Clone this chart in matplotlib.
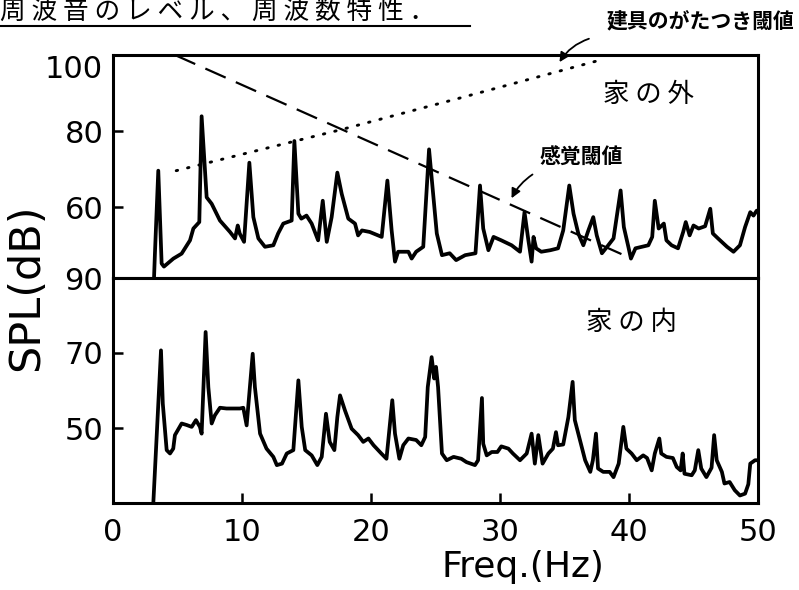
import matplotlib
matplotlib.use('Agg')
import matplotlib.pyplot as plt
from matplotlib.lines import Line2D

# 家の外 (上段) のスペクトル
freq_out = [3.18, 3.25, 3.51, 3.77, 3.95, 4.68, 5.32, 5.97, 6.23, 6.69, 6.87, 7.26, 7.65, 8.29, 9.07,
            9.46, 9.67, 9.82, 10.16, 10.57, 10.88, 11.27, 11.78, 12.43, 12.8, 13.2, 13.85, 14.06, 14.37,
            14.6, 15.0, 15.4, 15.9, 16.26, 16.57, 16.95, 17.39, 17.73, 18.24, 18.76, 19.0, 19.3, 19.9,
            20.83, 21.27, 21.6, 21.86, 22.1, 22.9, 23.15, 23.5, 24.05, 24.5, 24.7, 25.1, 25.5, 26.1,
            26.6, 27.3, 28.1, 28.45, 28.7, 29.1, 29.5, 30.1, 30.9, 31.55, 31.9, 32.2, 32.45, 32.6, 32.8,
            33.2, 33.9, 34.5, 34.9, 35.37, 35.7, 36.07, 36.46, 36.85, 37.23, 37.5, 37.9, 38.3, 38.8,
            39.35, 39.6, 39.95, 40.15, 40.5, 41.0, 41.5, 41.8, 42.0, 42.3, 42.7, 42.9, 43.3, 43.8, 44.2,
            44.4, 44.7, 45.0, 45.4, 45.9, 46.3, 46.5, 46.9, 47.6, 48.1, 48.6, 49.0, 49.4, 49.65, 49.9, 50.0]
spl_out = [41.4, 47.8, 69.6, 45.2, 44.4, 46.5, 47.8, 51.3, 54.4, 56.1, 83.9, 62.6, 60.9, 56.5, 53.5,
           51.8, 55.2, 53.1, 50.9, 71.7, 57.4, 51.8, 49.6, 50.0, 53.1, 55.7, 56.5, 77.4, 58.3,
           57.0, 57.8, 55.7, 51.3, 61.7, 50.9, 57.4, 69.1, 63.5, 57.0, 55.7, 52.6, 53.9, 53.5,
           52.2, 67.0, 53.9, 45.7, 48.3, 48.3, 46.5, 48.3, 49.6, 75.2, 67.8, 53.1, 47.4, 47.9,
           46.1, 47.4, 47.9, 65.7, 54.4, 48.7, 52.2, 51.3, 50.0, 48.3, 58.7, 51.3, 45.7, 52.2, 49.2,
           48.3, 48.7, 49.2, 53.9, 65.7, 58.3, 53.1, 50.0, 53.9, 57.4, 52.6, 47.9, 49.6, 51.8,
           64.4, 54.8, 49.6, 46.5, 49.2, 49.6, 50.0, 52.2, 61.7, 54.4, 55.7, 51.3, 50.0, 49.2, 53.5,
           56.1, 52.6, 55.2, 54.4, 55.0, 59.6, 53.1, 51.8, 49.6, 48.3, 50.0, 54.8, 58.7, 57.8, 59.1, 59.0]

# 家の内 (下段) のスペクトル
freq_in = [3.13, 3.72, 3.86, 4.16, 4.42, 4.67, 4.8, 5.32, 5.71, 6.1, 6.43, 6.74, 6.87, 7.18, 7.39,
           7.65, 7.9, 8.29, 8.8, 9.84, 10.1, 10.36, 10.83, 11.0, 11.4, 11.9, 12.43, 12.7, 13.1, 13.47,
           13.98, 14.37, 14.63, 14.9, 15.4, 15.84, 16.18, 16.51, 16.8, 17.16, 17.39, 17.6, 17.98, 18.5,
           19.0, 19.4, 19.8, 20.2, 20.8, 21.2, 21.65, 21.86, 22.2, 22.5, 22.9, 23.5, 23.9, 24.2, 24.4,
           24.7, 24.9, 25.04, 25.2, 25.5, 25.87, 26.4, 27.0, 27.4, 28.06, 28.3, 28.6, 28.7, 28.97,
           29.36, 29.8, 30.1, 30.65, 31.0, 31.55, 32.07, 32.45, 32.7, 32.97, 33.3, 33.75, 34.1, 34.34,
           34.5, 34.9, 35.3, 35.63, 35.8, 36.2, 36.6, 37.0, 37.2, 37.44, 37.6, 38.0, 38.5, 38.8, 39.2,
           39.56, 39.8, 40.2, 40.6, 41.1, 41.4, 41.76, 42.0, 42.35, 42.5, 42.9, 43.4, 43.7, 44.0, 44.16,
           44.3, 44.86, 45.1, 45.37, 45.6, 46.0, 46.4, 46.6, 46.8, 47.2, 47.4, 47.8, 48.2, 48.6, 49.0,
           49.25, 49.4, 49.77, 50.0]
spl_in = [30.3, 70.7, 56.5, 44.1, 43.2, 44.5, 48.1, 51.2, 50.8, 50.3, 52.1, 50.3, 48.5, 75.6, 60.9,
          51.2, 53.4, 55.4, 55.2, 55.2, 55.4, 50.7, 69.8, 60.9, 48.5, 44.5, 42.3, 40.1, 40.5, 43.2,
          44.1, 62.7, 50.3, 44.1, 42.7, 40.1, 42.3, 53.8, 46.3, 44.1, 52.9, 58.7, 54.7, 49.8,
          48.1, 46.3, 47.2, 45.4, 43.2, 41.8, 57.4, 48.5, 41.8, 45.4, 47.2, 46.8, 45.4, 47.6, 60.9,
          68.9, 63.2, 66.3, 60.9, 43.2, 41.4, 42.3, 41.8, 40.9, 40.1, 41.4, 58.0, 45.8, 42.7,
          43.6, 43.6, 45.1, 44.5, 43.2, 41.4, 43.2, 48.5, 40.5, 48.1, 40.5, 43.2, 44.5, 48.9,
          45.4, 45.6, 52.9, 62.3, 52.1, 46.7, 41.4, 38.3, 41.4, 48.5, 39.2, 38.3, 38.3, 36.9, 40.5,
          50.3, 44.5, 43.2, 41.4, 42.7, 42.0, 38.7, 43.2, 47.2, 43.2, 42.3, 42.0, 39.6, 38.7, 43.2,
          37.8, 37.4, 38.7, 44.1, 39.2, 36.9, 39.4, 48.1, 41.4, 38.3, 35.2, 35.6, 33.4, 32.0, 32.5,
          35.0, 40.5, 41.4, 41.4]

# 閾値
sense_freq = [4.8, 40.0]          # 感覚閾値
sense_spl = [100.0, 46.8]
rattle_freq = [4.9, 17.7, 26.9, 37.8]   # 建具のがたつき閾値
rattle_spl = [69.6, 80.4, 88.7, 98.7]

x_ticks = [0, 10, 20, 30, 40, 50]
y_ticks_out = [60, 80, 100]
y_ticks_in = [50, 70, 90]

jp = ['Noto Sans CJK JP', 'DejaVu Sans']

fig = plt.figure(figsize=(7.99, 5.90), dpi=100)
ax1 = fig.add_axes([113 / 799, 1 - 278 / 590, 645 / 799, 223 / 590])
ax2 = fig.add_axes([113 / 799, 1 - 503 / 590, 645 / 799, 225 / 590])

ax1.plot(freq_out, spl_out, color='black', lw=2.7)
ax1.plot(sense_freq, sense_spl, color='black', lw=1.6, dashes=(10, 5))
ax1.plot(rattle_freq, rattle_spl, color='black', lw=2.1, linestyle=(0, (0.5, 3.5)),
         dash_capstyle='round')
ax2.plot(freq_in, spl_in, color='black', lw=2.7)

ax1.set_xlim(0, 50)
ax1.set_ylim(41.4, 99.6)
ax2.set_xlim(0, 50)
ax2.set_ylim(30, 90)

for ax in (ax1, ax2):
    for s in ax.spines.values():
        s.set_linewidth(2.2)
    ax.tick_params(direction='in', length=7, width=1.8, labelsize=22, pad=7,
                   top=False, right=False)

ax1.set_xticks(x_ticks)
ax1.tick_params(axis='x', length=0, labelbottom=False)
ax1.set_yticks(y_ticks_out)
ax1.set_yticklabels([str(v) for v in y_ticks_out])
ax1.get_yticklabels()[-1].set_verticalalignment('top')

ax2.set_xticks(x_ticks)
ax2.set_xticklabels([str(v) for v in x_ticks])
ax2.tick_params(axis='x', pad=11)
ax2.set_yticks(y_ticks_in)
ax2.set_yticklabels([str(v) for v in y_ticks_in])

ax1.text(41.5, 89.6, '家 の 外', family=jp, fontsize=19, ha='center', va='center')
ax2.text(40.2, 78.2, '家 の 内', family=jp, fontsize=19, ha='center', va='center')
ax1.text(36.3, 73.2, '感覚閾値', family=jp, fontsize=15, fontweight='bold',
         ha='center', va='center')
ax1.annotate('', xy=(30.8, 61.7), xytext=(32.7, 69.0),
             arrowprops=dict(arrowstyle='-|>', color='black', lw=1.3,
                             connectionstyle='arc3,rad=0.15', mutation_scale=14))
ax1.annotate('', xy=(34.5, 97.5), xytext=(37.1, 104.5), annotation_clip=False,
             arrowprops=dict(arrowstyle='-|>', color='black', lw=1.3,
                             connectionstyle='arc3,rad=0.2', mutation_scale=14))
fig.text(700 / 799, 1 - 22 / 590, '建具のがたつき閾値', family=jp, fontsize=15,
         fontweight='bold', ha='center', va='center')

fig.text(26 / 799, 1 - 287 / 590, 'SPL(dB)', fontsize=31, rotation=90,
         ha='center', va='center')
fig.text(523 / 799, 1 - 567 / 590, 'Freq.(Hz)', fontsize=26, ha='center', va='center')

# 見出し (下線付き)
fig.text(0.0, 1 - 20 / 590, '周 波 音 の レ ベ ル 、 周 波 数 特 性 ．', family=jp,
         fontsize=18.5, ha='left', va='baseline')
fig.add_artist(Line2D([0, 470 / 799], [1 - 26 / 590, 1 - 26 / 590], color='black', lw=1.5))

fig.savefig('out.png', dpi=100)
